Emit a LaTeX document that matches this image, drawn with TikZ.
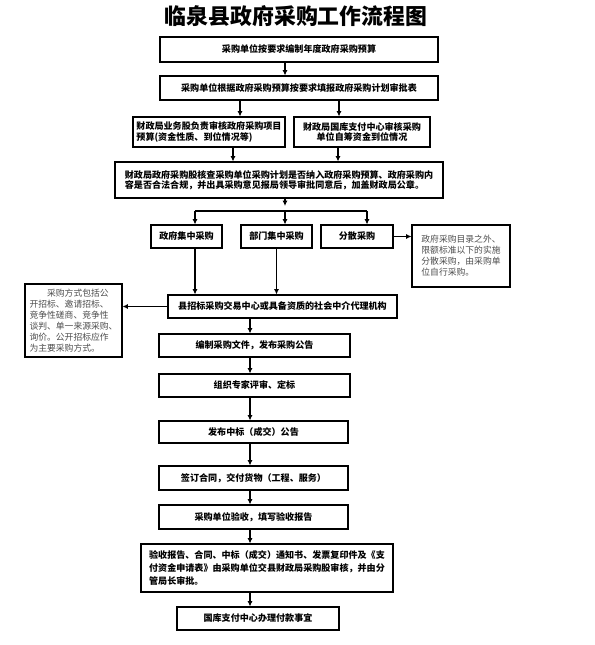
\documentclass[tikz,border=0pt]{standalone}
\usepackage{fontspec}
\newfontfamily\cjk{Noto Sans CJK SC}
\usetikzlibrary{arrows.meta}
\begin{document}
\begin{tikzpicture}[x=0.75pt,y=-0.75pt,
  box/.style={draw,line width=0.8pt,inner sep=0pt,align=center,
    font=\cjk\bfseries\fontsize{6.8}{8.2}\selectfont},
  note/.style={draw,line width=0.8pt,inner sep=0pt,align=left,text=black!70,
    font=\cjk\fontsize{6.6}{8.2}\selectfont},
  arr/.style={line width=0.8pt,-{Latex[length=4pt,width=3.8pt]}},
  ln/.style={line width=0.8pt}]
\useasboundingbox (0,0) rectangle (595,645);
\node[font=\cjk\bfseries\fontsize{16.4}{18}\selectfont] (title) at (296,16) {临泉县政府采购工作流程图};
\node[box,minimum width=208.5pt,minimum height=18.75pt] (b1) at (299,49.5) {采购单位按要求编制年度政府采购预算};
\node[box,minimum width=208.5pt,minimum height=18pt] (b2) at (299,88) {采购单位根据政府采购预算按要求填报政府采购计划审批表};
\node[box,align=left,minimum width=114pt,minimum height=22.5pt] (b3a) at (209,132) {财政局业务股负责审核政府采购项目\\预算(资金性质、到位情况等)};
\node[box,minimum width=102pt,minimum height=22.5pt] (b3b) at (362,132) {财政局国库支付中心审核采购\\单位自筹资金到位情况};
\node[box,align=left,font=\cjk\bfseries\fontsize{6.8}{7.6}\selectfont,minimum width=246pt,minimum height=27pt] (b4) at (279,180) {财政局政府采购股核查采购单位采购计划是否纳入政府采购预算、政府采购内\\容是否合法合规，并出具采购意见报局领导审批同意后，加盖财政局公章。};
\node[box,minimum width=53.25pt,minimum height=17.25pt] (b5a) at (186.5,236.5) {政府集中采购};
\node[box,minimum width=53.25pt,minimum height=17.25pt] (b5b) at (276.5,236.5) {部门集中采购};
\node[box,minimum width=54pt,minimum height=17.25pt] (b5c) at (357,236.5) {分散采购};
\node[note,minimum width=73.5pt,minimum height=46.5pt] (fsnote) at (461,256) {政府采购目录之外、\\限额标准以下的实施\\分散采购，由采购单\\位自行采购。};
\node[box,minimum width=171.75pt,minimum height=17.25pt] (b6) at (282.5,306.5) {县招标采购交易中心或具备资质的社会中介代理机构};
\node[note,minimum width=72.75pt,minimum height=54.75pt] (fsnote2) at (73.5,320.5) {\hspace*{2em}采购方式包括公\\开招标、邀请招标、\\竞争性磋商、竞争性\\谈判、单一来源采购、\\询价。公开招标应作\\为主要采购方式。};
\node[box,minimum width=143.25pt,minimum height=17.25pt] (b7) at (254.5,345.5) {编制采购文件，发布采购公告};
\node[box,minimum width=143.25pt,minimum height=17.25pt] (b8) at (254.5,385.5) {组织专家评审、定标};
\node[box,minimum width=141.75pt,minimum height=16.5pt] (b9) at (253.5,432) {发布中标（成交）公告};
\node[box,minimum width=141.75pt,minimum height=18pt] (b10) at (253.5,478) {签订合同，交付货物（工程、服务）};
\node[box,minimum width=141.75pt,minimum height=18pt] (b11) at (253.5,517) {采购单位验收，填写验收报告};
\node[box,align=left,font=\cjk\bfseries\fontsize{6.8}{9.4}\selectfont,minimum width=189pt,minimum height=36pt] (b12) at (267,568) {验收报告、合同、中标（成交）通知书、发票复印件及《支\\付资金申请表》由采购单位交县财政局采购股审核，并由分\\管局长审批。};
\node[box,minimum width=121.5pt,minimum height=17.25pt] (b13) at (258,618.5) {国库支付中心办理付款事宜};
\coordinate (c1) at (285,0);
\coordinate (xa) at (240,0);
\coordinate (xb) at (339,0);
\coordinate (xc) at (233,0);
\coordinate (xd) at (338,0);
\coordinate (kt) at (285,206);
\coordinate (ka) at (195,211);
\coordinate (kb) at (285,211);
\coordinate (kc) at (367,211);
\coordinate (col) at (250,0);
\draw[arr] (b1.south -| c1) -- (b2.north -| c1);
\draw[arr] (b2.south -| xa) -- (b3a.north -| xa);
\draw[arr] (b2.south -| xb) -- (b3b.north -| xb);
\draw[arr] (b3a.south -| xc) -- (b4.north -| xc);
\draw[arr] (b3b.south -| xd) -- (b4.north -| xd);
\draw[arr] (b4.south -| kt) -- (kt);
\draw[ln] (ka) -- (kc);
\draw[arr] (ka) -- (b5a.north -| ka);
\draw[arr] (kb) -- (b5b.north -| kb);
\draw[arr] (kc) -- (b5c.north -| kc);
\draw[arr] (b5c.east) -- (b5c.east -| fsnote.west);
\draw[arr] (b5a.south -| ka) -- (b6.north -| ka);
\draw[arr] (b5b.south) -- (b5b.south |- b6.north);
\draw[arr] (b6.west) -- (b6.west -| fsnote2.east);
\draw[arr] (b6.south -| col) -- (b7.north -| col);
\draw[arr] (b7.south -| col) -- (b8.north -| col);
\draw[arr] (b8.south -| col) -- (b9.north -| col);
\draw[arr] (b9.south -| col) -- (b10.north -| col);
\draw[arr] (b10.south -| col) -- (b11.north -| col);
\draw[arr] (b11.south -| col) -- (b12.north -| col);
\draw[arr] (b12.south -| col) -- (b13.north -| col);
\end{tikzpicture}
\end{document}
